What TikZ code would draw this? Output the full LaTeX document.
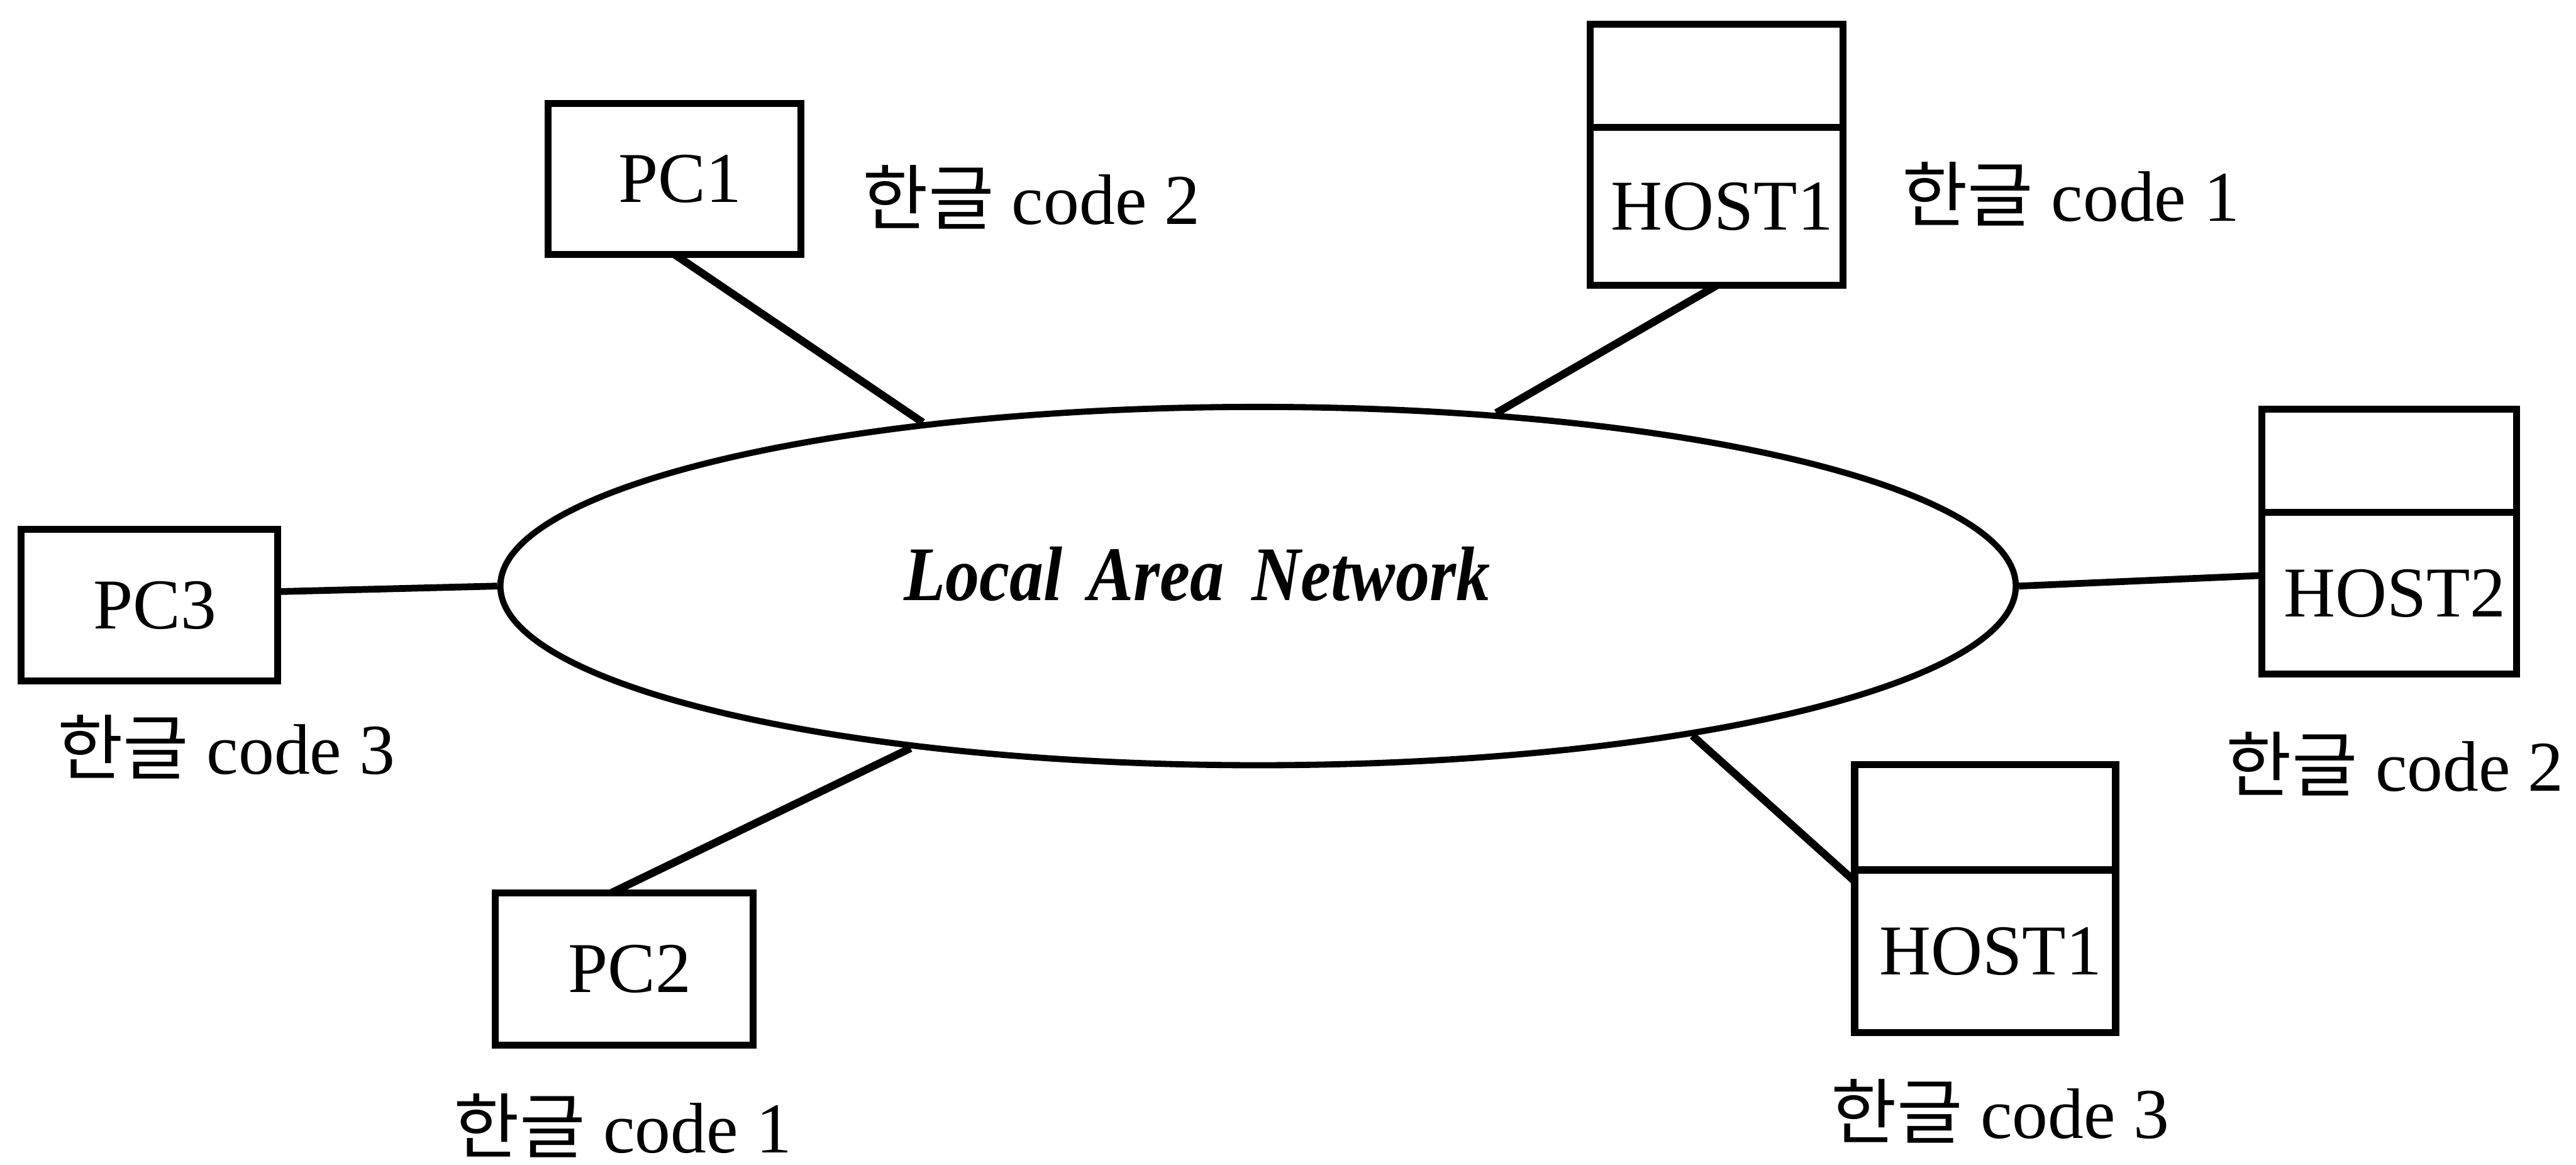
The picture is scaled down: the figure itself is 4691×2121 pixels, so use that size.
\documentclass[tikz,border=0pt]{standalone}
\usepackage{fontspec}
\setmainfont{Liberation Serif}
\newfontfamily\kr{Noto Sans CJK KR}
\newfontfamily\lanfont[FakeStretch=0.88]{Liberation Serif}
\usetikzlibrary{shapes.geometric,calc}

\begin{document}
\begin{tikzpicture}[x=0.01cm,y=-0.01cm,
  every node/.style={font=\fontsize{37}{44}\selectfont},
  box/.style={draw, line width=3.6pt, inner sep=0pt, outer sep=0pt,
              execute at begin node={\hspace*{0.2cm}}},
  codelabel/.style={anchor=base west, inner sep=0pt},
  link/.style={line width=3.5pt},
  thicklink/.style={line width=4pt}]
  \useasboundingbox (0,0) rectangle (4691,2121);

  % the network
  \node[draw, ellipse, line width=3.2pt, minimum width=27.58cm,
        minimum height=6.52cm, inner sep=0pt] (lan) at (2291,1067) {};
  \node[anchor=base, inner sep=0pt,
        font=\fontsize{40}{48}\lanfont\bfseries\itshape] (lantext)
        at (2180,1093) {Local\hspace{0.33em}Area\hspace{0.36em}Network};

  % personal computers
  \node[box, minimum width=4.60cm, minimum height=2.74cm] (pc1) at (1228,326) {PC1};
  \node[box, minimum width=4.66cm, minimum height=2.76cm] (pc3) at (272,1102) {PC3};
  \node[box, minimum width=4.69cm, minimum height=2.77cm] (pc2) at (1137,1764) {PC2};

  % hosts: an empty upper part above the named part
  \node[box, minimum width=4.60cm, minimum height=1.885cm] (h1top) at (3126,138) {};
  \node[box, minimum width=4.60cm, minimum height=2.875cm] (h1) at (3126,376) {HOST1};
  \node[box, minimum width=4.63cm, minimum height=1.875cm] (h2top) at (4351,839) {};
  \node[box, minimum width=4.63cm, minimum height=2.935cm] (h2) at (4351,1080) {HOST2};
  \node[box, minimum width=4.75cm, minimum height=1.925cm] (h3top) at (3615,1488) {};
  \node[box, minimum width=4.75cm, minimum height=2.965cm] (h3) at (3615,1732) {HOST1};

  % code labels
  \node[codelabel] (c1) at (1570,408) {{\kr 한글} code 2};
  \node[codelabel] (c2) at (3463,403) {{\kr 한글} code 1};
  \node[codelabel] (c3) at (104,1409) {{\kr 한글} code 3};
  \node[codelabel] (c4) at (4053,1440) {{\kr 한글} code 2};
  \node[codelabel] (c5) at (826,2099) {{\kr 한글} code 1};
  \node[codelabel] (c6) at (3334,2072) {{\kr 한글} code 3};

  % connections to the network
  \draw[thicklink] (pc1.south) -- (lan.154);
  \draw[thicklink] (h1.south) -- (lan.36);
  \draw[link] ($(pc3.north east)!0.41!(pc3.south east)$) -- (lan.west);
  \draw[link] (lan.east) -- ($(h2.north west)!0.39!(h2.south west)$);
  \draw[thicklink] ($(pc2.north west)!0.45!(pc2.north east)$) -- (lan.205);
  \draw[thicklink] (lan.341) -- ($(h3.north west)!0.07!(h3.south west)$);
\end{tikzpicture}
\end{document}
